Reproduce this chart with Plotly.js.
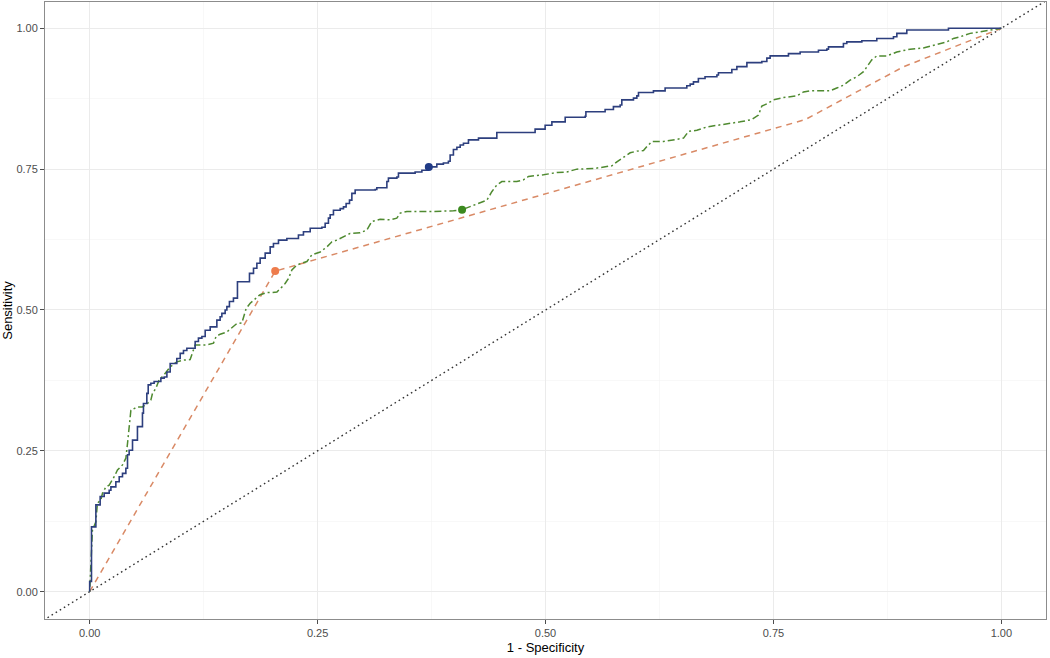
<!DOCTYPE html>
<html>
<head>
<meta charset="utf-8">
<script src="https://cdn.plot.ly/plotly-3.0.1.min.js"></script>
<style>html,body{margin:0;padding:0;background:#fff;}#chart{width:1050px;height:658px;}</style>
</head>
<body>
<div id="chart"></div>
<script>
// ---- Data (1 - Specificity, Sensitivity) ----
var blueFpr = [0, 0, 0.002, 0.0068, 0.0068, 0.0115, 0.0159, 0.0214, 0.0233, 0.0287, 0.0324, 0.036, 0.0397, 0.0415, 0.0433, 0.047, 0.0524, 0.0579, 0.059, 0.0627, 0.0642, 0.0671, 0.0707, 0.0781, 0.0817, 0.0847, 0.0883, 0.0956, 0.0993, 0.1029, 0.1066, 0.1157, 0.1193, 0.1231, 0.1267, 0.1322, 0.1395, 0.1431, 0.145, 0.1486, 0.1505, 0.1533, 0.1577, 0.1621, 0.1753, 0.1797, 0.1834, 0.187, 0.1925, 0.198, 0.2016, 0.2071, 0.2163, 0.229, 0.2345, 0.2419, 0.2547, 0.2583, 0.2619, 0.2638, 0.2674, 0.2748, 0.2784, 0.2813, 0.285, 0.2876, 0.2912, 0.3132, 0.315, 0.326, 0.3277, 0.337, 0.3387, 0.357, 0.3644, 0.3716, 0.3808, 0.388, 0.3935, 0.3954, 0.399, 0.4028, 0.4064, 0.41, 0.4155, 0.4265, 0.4466, 0.4886, 0.4996, 0.507, 0.5216, 0.5435, 0.5443, 0.5654, 0.5745, 0.5819, 0.5837, 0.5965, 0.6002, 0.602, 0.6184, 0.6312, 0.655, 0.6587, 0.6623, 0.6677, 0.675, 0.688, 0.6897, 0.7044, 0.7099, 0.7209, 0.7373, 0.7428, 0.7464, 0.7665, 0.7793, 0.7994, 0.8086, 0.8104, 0.8268, 0.8305, 0.847, 0.8634, 0.8817, 0.8854, 0.8963, 0.942, 1];
var blueTpr = [0, 0.018, 0.115, 0.124, 0.154, 0.169, 0.175, 0.180, 0.186, 0.195, 0.204, 0.210, 0.219, 0.243, 0.251, 0.269, 0.293, 0.317, 0.334, 0.352, 0.367, 0.370, 0.373, 0.379, 0.381, 0.390, 0.405, 0.414, 0.423, 0.428, 0.432, 0.444, 0.450, 0.453, 0.464, 0.470, 0.482, 0.488, 0.494, 0.500, 0.506, 0.515, 0.521, 0.550, 0.565, 0.574, 0.583, 0.592, 0.601, 0.612, 0.618, 0.624, 0.627, 0.633, 0.639, 0.645, 0.647, 0.654, 0.663, 0.669, 0.677, 0.680, 0.683, 0.689, 0.695, 0.707, 0.713, 0.714, 0.717, 0.728, 0.734, 0.736, 0.743, 0.745, 0.748, 0.754, 0.759, 0.761, 0.764, 0.775, 0.785, 0.789, 0.793, 0.796, 0.802, 0.805, 0.815, 0.821, 0.828, 0.834, 0.842, 0.844, 0.852, 0.856, 0.861, 0.864, 0.873, 0.876, 0.880, 0.886, 0.889, 0.894, 0.898, 0.901, 0.905, 0.911, 0.914, 0.917, 0.921, 0.927, 0.932, 0.939, 0.941, 0.947, 0.951, 0.955, 0.958, 0.961, 0.963, 0.967, 0.973, 0.976, 0.978, 0.982, 0.985, 0.991, 0.997, 1.0, 1.0];

var greenFpr = [0, 0.003, 0.0068, 0.0085, 0.0123, 0.0141, 0.0178, 0.0214, 0.0269, 0.0305, 0.036, 0.0397, 0.0415, 0.0433, 0.0452, 0.0488, 0.0524, 0.0579, 0.0634, 0.0671, 0.0689, 0.0726, 0.0762, 0.0817, 0.0883, 0.0956, 0.1029, 0.1102, 0.1131, 0.1157, 0.1285, 0.1358, 0.1387, 0.1431, 0.1505, 0.156, 0.1614, 0.1669, 0.1706, 0.1717, 0.1761, 0.1816, 0.1852, 0.187, 0.1944, 0.1999, 0.2054, 0.211, 0.2144, 0.2181, 0.2218, 0.2273, 0.2383, 0.2437, 0.2529, 0.2602, 0.2657, 0.2712, 0.2784, 0.2857, 0.2967, 0.304, 0.3095, 0.3186, 0.3296, 0.3369, 0.3406, 0.3479, 0.3772, 0.3991, 0.4085, 0.421, 0.4357, 0.4411, 0.4466, 0.4521, 0.4685, 0.4758, 0.4813, 0.4978, 0.5124, 0.5234, 0.5344, 0.5526, 0.5728, 0.5783, 0.5856, 0.5929, 0.6002, 0.6075, 0.6112, 0.6167, 0.6294, 0.6367, 0.6514, 0.6569, 0.666, 0.677, 0.6897, 0.7025, 0.7135, 0.7263, 0.7336, 0.7373, 0.7428, 0.7501, 0.7611, 0.7757, 0.783, 0.7903, 0.8122, 0.8195, 0.8268, 0.8341, 0.8415, 0.8488, 0.8542, 0.8579, 0.8634, 0.8744, 0.8854, 0.9, 0.9145, 0.9292, 0.9402, 0.9475, 0.9548, 0.9658, 0.9768, 0.9877, 1];
var greenTpr = [0, 0.109, 0.124, 0.157, 0.163, 0.175, 0.186, 0.189, 0.204, 0.216, 0.225, 0.237, 0.263, 0.296, 0.322, 0.325, 0.328, 0.328, 0.334, 0.340, 0.352, 0.361, 0.376, 0.385, 0.399, 0.408, 0.411, 0.412, 0.426, 0.438, 0.438, 0.441, 0.453, 0.457, 0.461, 0.468, 0.476, 0.477, 0.494, 0.503, 0.512, 0.521, 0.525, 0.527, 0.531, 0.531, 0.532, 0.541, 0.547, 0.556, 0.571, 0.580, 0.586, 0.598, 0.603, 0.612, 0.621, 0.624, 0.630, 0.636, 0.637, 0.642, 0.657, 0.661, 0.660, 0.663, 0.672, 0.675, 0.675, 0.676, 0.678, 0.686, 0.695, 0.710, 0.722, 0.728, 0.728, 0.731, 0.737, 0.740, 0.744, 0.745, 0.750, 0.751, 0.756, 0.763, 0.771, 0.779, 0.782, 0.783, 0.790, 0.799, 0.799, 0.801, 0.805, 0.817, 0.819, 0.825, 0.828, 0.831, 0.834, 0.838, 0.846, 0.862, 0.866, 0.873, 0.877, 0.880, 0.887, 0.889, 0.889, 0.894, 0.899, 0.908, 0.914, 0.923, 0.935, 0.944, 0.951, 0.951, 0.958, 0.963, 0.965, 0.971, 0.976, 0.982, 0.985, 0.991, 0.994, 0.997, 1];

var orangeFpr = [0, 0.2035, 0.785, 0.893, 1];
var orangeTpr = [0, 0.569, 0.838, 0.932, 1];

// highlighted operating points
var bluePointFpr = [0.372], bluePointTpr = [0.754];
var greenPointFpr = [0.4085], greenPointTpr = [0.678];
var orangePointFpr = [0.2035], orangePointTpr = [0.569];

// chance diagonal (y = x)
var diagonal = [-0.1, 1.1];

var tickVals = [0, 0.25, 0.5, 0.75, 1];
var tickText = ['0.00', '0.25', '0.50', '0.75', '1.00'];

var traces = [
  {x: diagonal, y: diagonal, mode: 'lines', line: {color: '#333333', width: 1.4, dash: '1.6px,3.2px'}, hoverinfo: 'skip'},
  {x: orangeFpr, y: orangeTpr, mode: 'lines', line: {color: '#D98A66', width: 1.5, dash: '6px,5px'}},
  {x: greenFpr, y: greenTpr, mode: 'lines', line: {color: '#4F8A30', width: 1.5, dash: '2px,3px,7px,3px'}},
  {x: blueFpr, y: blueTpr, mode: 'lines', line: {color: '#2D3F7E', width: 1.6, shape: 'hv'}},
  {x: bluePointFpr, y: bluePointTpr, mode: 'markers', marker: {color: '#203A86', size: 8}},
  {x: greenPointFpr, y: greenPointTpr, mode: 'markers', marker: {color: '#3B8A1F', size: 8}},
  {x: orangePointFpr, y: orangePointTpr, mode: 'markers', marker: {color: '#EE7C4C', size: 8}}
];

var axisCommon = {
  tickmode: 'array', tickvals: tickVals, ticktext: tickText,
  ticks: 'outside', ticklen: 4, tickwidth: 1, tickcolor: '#4D4D4D',
  tickfont: {family: 'Liberation Sans, Arial, sans-serif', size: 11, color: '#4D4D4D'},
  showgrid: true, gridcolor: '#EBEBEB', gridwidth: 1,
  minor: {tickmode: 'array', tickvals: [0.125, 0.375, 0.625, 0.875], showgrid: true, gridcolor: '#F4F4F4', gridwidth: 0.6, ticks: ''},
  zeroline: false, showline: true, mirror: true, linecolor: '#8C8C8C', linewidth: 1,
  automargin: false, fixedrange: true
};

var layout = {
  width: 1050, height: 658,
  margin: {l: 45, r: 4, t: 2, b: 39},
  paper_bgcolor: '#FFFFFF', plot_bgcolor: '#FFFFFF',
  showlegend: false,
  font: {family: 'Liberation Sans, Arial, sans-serif'},
  xaxis: Object.assign({}, axisCommon, {
    range: [-0.049, 1.049],
    title: {text: '1 - Specificity', font: {size: 13, color: '#000000'}, standoff: 4}
  }),
  yaxis: Object.assign({}, axisCommon, {
    range: [-0.0485, 1.0467],
    title: {text: 'Sensitivity', font: {size: 13, color: '#000000'}, standoff: 4}
  })
};

Plotly.newPlot('chart', traces, layout, {displayModeBar: false, staticPlot: true});
</script>
</body>
</html>
